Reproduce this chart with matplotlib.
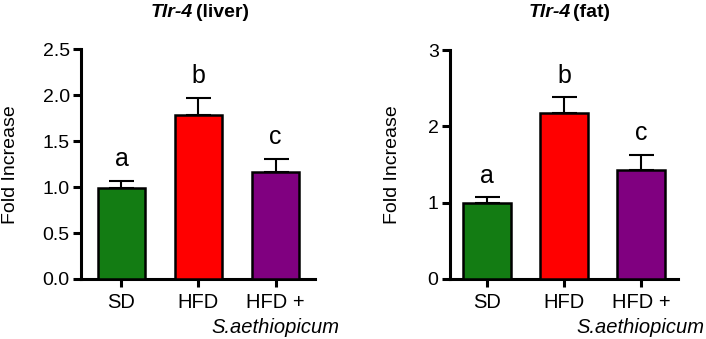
import matplotlib.pyplot as plt
import numpy as np

plt.rcParams['font.family'] = ['Liberation Sans', 'DejaVu Sans']

groups = ["SD", "HFD", "HFD +"]
group_italic = "S.aethiopicum"
colors = ["#137c13", "#ff0000", "#800080"]
letters = ["a", "b", "c"]

liver_mean = [0.99, 1.79, 1.17]
liver_err = [0.08, 0.18, 0.14]
fat_mean = [0.99, 2.18, 1.43]
fat_err = [0.08, 0.20, 0.20]

liver_ticks = [0.0, 0.5, 1.0, 1.5, 2.0, 2.5]
liver_ticklabels = ["0.0", "0.5", "1.0", "1.5", "2.0", "2.5"]
fat_ticks = [0, 1, 2, 3]
fat_ticklabels = ["0", "1", "2", "3"]

fig = plt.figure(figsize=(7.06, 3.39), dpi=100)
ax1 = fig.add_axes([0.1147, 0.177, 0.3315, 0.677])
ax2 = fig.add_axes([0.637, 0.177, 0.323, 0.6755])

lw_axis = 2.2


def panel(ax, means, errs, ticks, ticklabels, xlim, ylabel_x):
    x = np.arange(len(means))
    ax.bar(x, means, width=0.62, color=colors, edgecolor="black", linewidth=1.8, zorder=3)
    ax.errorbar(x, means, yerr=[[0] * len(errs), errs], fmt="none", ecolor="black",
                elinewidth=1.5, capsize=9, capthick=1.5, zorder=2)
    for xi, m, e, lab in zip(x, means, errs, letters):
        ax.annotate(lab, (xi, m + e), xytext=(0, 7), textcoords="offset points",
                    ha="center", va="bottom", fontsize=18)
    ax.set_xlim(*xlim)
    ax.set_ylim(ticks[0], ticks[-1])
    ax.set_yticks(ticks)
    ax.set_yticklabels(ticklabels, fontsize=14)
    ax.set_xticks(x)
    ax.set_xticklabels(groups, fontsize=14.5)
    ax.annotate(group_italic, (x[-1], 0), xycoords=("data", "axes fraction"),
                xytext=(0, -35), textcoords="offset points", ha="center", va="center",
                fontsize=14.5, style="italic", annotation_clip=False)
    for s in ["top", "right"]:
        ax.spines[s].set_visible(False)
    for s in ["left", "bottom"]:
        ax.spines[s].set_linewidth(lw_axis)
    ax.tick_params(axis="both", direction="out", length=6, width=lw_axis)
    ax.tick_params(axis="y", pad=2)
    ax.tick_params(axis="x", pad=4)
    ax.set_ylabel("Fold Increase", fontsize=14)
    ax.yaxis.set_label_coords(ylabel_x, 0.5)


panel(ax1, liver_mean, liver_err, liver_ticks, liver_ticklabels, (-0.526, 2.513), -0.265)
panel(ax2, fat_mean, fat_err, fat_ticks, fat_ticklabels, (-0.484, 2.48), -0.214)

fig.text(0.273, 0.951, "Tlr-4", ha="right", va="baseline", fontsize=14,
         fontweight="bold", style="italic")
fig.text(0.277, 0.951, "(liver)", ha="left", va="baseline", fontsize=14, fontweight="bold")
fig.text(0.808, 0.951, "Tlr-4", ha="right", va="baseline", fontsize=14,
         fontweight="bold", style="italic")
fig.text(0.812, 0.951, "(fat)", ha="left", va="baseline", fontsize=14, fontweight="bold")

fig.savefig("out.png", dpi=100)
